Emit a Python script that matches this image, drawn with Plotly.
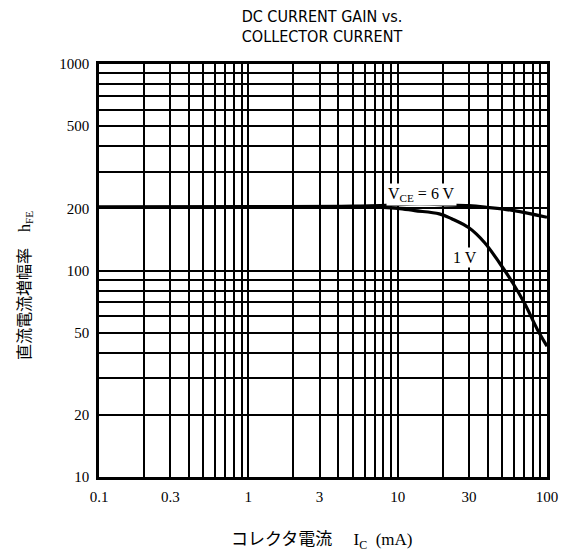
import plotly.graph_objects as go

# Data
ic_6v = [0.1, 1, 5, 10, 14, 20, 30, 40, 60, 100]
hfe_6v = [203, 204, 205, 208, 210, 208, 206, 202, 195, 181]

ic_1v = [0.1, 1, 5, 8, 10, 13, 19, 23, 30, 38, 48, 59, 71, 86, 100]
hfe_1v = [203, 203, 203, 202, 200, 195, 188, 178, 161, 137, 109, 87, 69, 52, 43]

x_grid = [0.1, 0.2, 0.3, 0.4, 0.5, 0.6, 0.7, 0.8, 0.9,
          1, 2, 3, 4, 5, 6, 7, 8, 9,
          10, 20, 30, 40, 50, 60, 70, 80, 90, 100]
x_labels = {0.1: "0.1", 0.3: "0.3", 1: "1", 3: "3", 10: "10", 30: "30", 100: "100"}

y_grid = [10, 20, 30, 40, 50, 60, 70, 80, 90,
          100, 200, 300, 400, 500, 600, 700, 800, 900, 1000]
y_labels = {10: "10", 20: "20", 50: "50", 100: "100", 200: "200", 500: "500", 1000: "1000"}

serif = "Liberation Serif, Times New Roman, serif"
cjk = "Liberation Serif, Noto Sans CJK JP, serif"

fig = go.Figure()
fig.add_trace(go.Scatter(x=ic_6v, y=hfe_6v, mode="lines",
                         line=dict(color="black", width=3.2, shape="spline", smoothing=1.0),
                         showlegend=False, hoverinfo="skip"))
fig.add_trace(go.Scatter(x=ic_1v, y=hfe_1v, mode="lines",
                         line=dict(color="black", width=3.2, shape="spline", smoothing=1.0),
                         showlegend=False, hoverinfo="skip"))

fig.update_xaxes(type="log", range=[-1, 2],
                 tickvals=x_grid, ticktext=[x_labels.get(v, " ") for v in x_grid],
                 tickangle=0,
                 showgrid=True, gridcolor="black", gridwidth=1.7,
                 showline=True, linecolor="black", linewidth=2.5, mirror=True,
                 ticks="", zeroline=False, ticklabelstandoff=4,
                 tickfont=dict(family=serif, size=15, color="black"))
fig.update_yaxes(type="log", range=[1, 3],
                 tickvals=y_grid, ticktext=[y_labels.get(v, " ") for v in y_grid],
                 tickangle=0,
                 showgrid=True, gridcolor="black", gridwidth=1.7,
                 showline=True, linecolor="black", linewidth=2.5, mirror=True,
                 ticks="", zeroline=False, ticklabelstandoff=4,
                 tickfont=dict(family=serif, size=15, color="black"))

fig.update_layout(
    width=562, height=552, autosize=False,
    margin=dict(l=91, r=17, t=56, b=83),
    paper_bgcolor="white", plot_bgcolor="white",
    title=dict(text="DC CURRENT GAIN vs.<br>COLLECTOR CURRENT",
               x=314 / 562, xanchor="center", y=1 - 13.5 / 552, yanchor="middle",
               font=dict(family="Liberation Sans Narrow, DejaVu Sans Condensed, Arial Narrow, sans-serif",
                         size=16, color="black")),
    annotations=[
        dict(text="V<sub>CE</sub> = 6 V", x=1.16, y=2.37, xref="x", yref="y",
             showarrow=False, bgcolor="white", borderpad=1,
             font=dict(family=serif, size=16, color="black")),
        dict(text="1 V", x=1.45, y=2.065, xref="x", yref="y",
             showarrow=False, bgcolor="white", borderpad=1,
             font=dict(family=serif, size=16, color="black")),
        dict(text="直流電流増幅率　h<sub>FE</sub>", x=-0.163, y=0.465,
             xref="paper", yref="paper", textangle=-90, showarrow=False,
             xanchor="center", yanchor="middle",
             font=dict(family=cjk, size=16, color="black")),
        dict(text="コレクタ電流　 I<sub>C</sub>  (mA)", x=0.498, y=-0.155,
             xref="paper", yref="paper", showarrow=False,
             xanchor="center", yanchor="middle",
             font=dict(family=cjk, size=17, color="black")),
    ],
)

fig.write_html("out.html")
